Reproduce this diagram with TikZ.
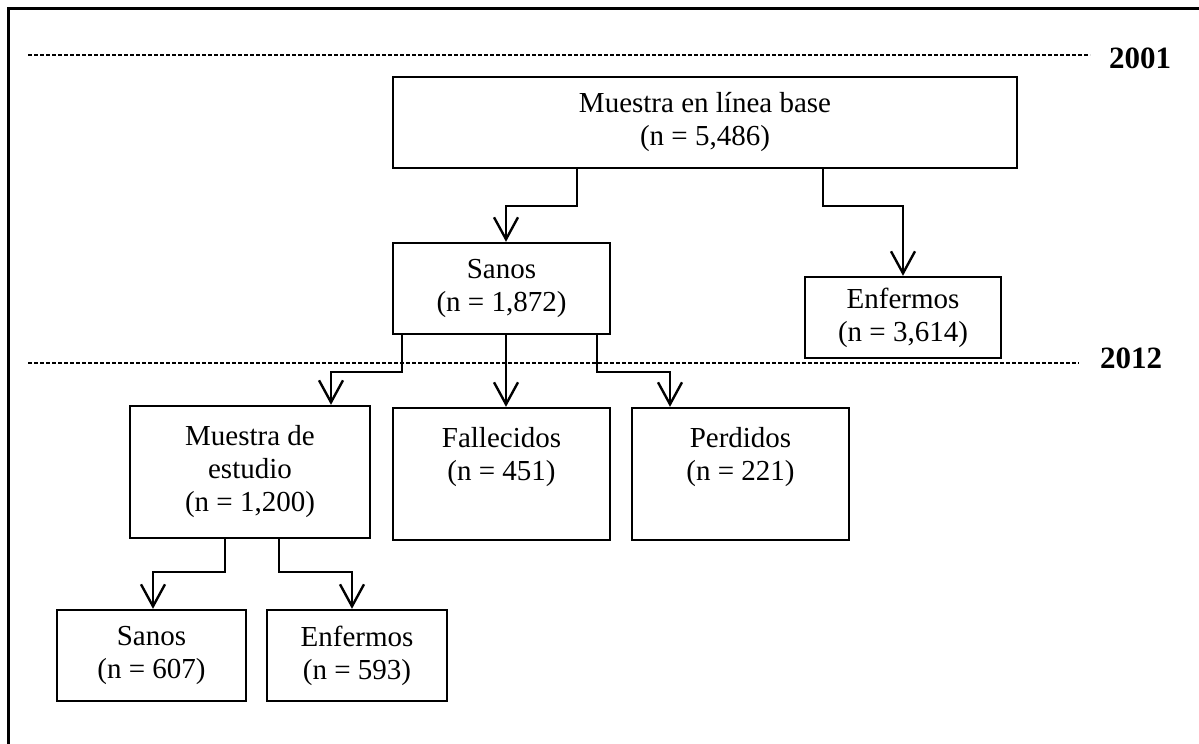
\documentclass[tikz,border=0pt]{standalone}
\usepackage{fontspec}
\setmainfont{Liberation Serif}
\usetikzlibrary{arrows.meta}
\begin{document}
\begin{tikzpicture}[x=0.5pt,y=-0.5pt,
  box/.style={draw,line width=1.2pt,align=center,inner sep=0pt,
    font=\fontsize{14.5}{16.5}\selectfont},
  arr/.style={line width=1.2pt,-{Straight Barb[length=11pt,width=12pt,line width=1.2pt]}},
  dline/.style={line width=0.7pt,dash pattern=on 2pt off 1pt},
  year/.style={font=\fontsize{15.5}{17}\selectfont\bfseries,inner sep=0pt}]
\useasboundingbox (0,0) rectangle (1199,744);
\begin{scope}
\clip (0,0) rectangle (1199,744);
\draw[line width=1.5pt] (8,800) -- (8,8) -- (1250,8);
\end{scope}
% time lines
\coordinate (d1a) at (28,55);
\coordinate (d1b) at (1090,55);
\coordinate (d2a) at (28,363);
\coordinate (d2b) at (1079,363);
\draw[dline] (d1a) -- (d1b);
\draw[dline] (d2a) -- (d2b);
\node[year] (y2001) at (1140,58) {2001};
\node[year] (y2012) at (1131,358) {2012};
% boxes
\node[box,minimum width=312pt,minimum height=45.5pt] (top) at (705,122.5) {Muestra en línea base\\(n = 5,486)};
\node[box,minimum width=108.5pt,minimum height=45.5pt] (sanos) at (501.5,288.5) {Sanos\\(n = 1,872)};
\node[box,minimum width=98pt,minimum height=40.5pt] (enf) at (903,317.5) {Enfermos\\(n = 3,614)};
\node[box,minimum width=120pt,minimum height=66pt] (mde) at (250,472) {Muestra de\\estudio\\(n = 1,200)};
\node[box,minimum width=108.5pt,minimum height=66pt] (fall) at (501.5,474) {Fallecidos\\(n = 451)\\\phantom{(n)}};
\node[box,minimum width=108.5pt,minimum height=66pt] (perd) at (740.5,474) {Perdidos\\(n = 221)\\\phantom{(n)}};
\node[box,minimum width=94.5pt,minimum height=45.5pt] (sanos2) at (151.5,655.5) {Sanos\\(n = 607)};
\node[box,minimum width=90pt,minimum height=45.5pt] (enf2) at (357,655.5) {Enfermos\\(n = 593)};
% column coordinates
\coordinate (c577) at (577,206);
\coordinate (c823) at (823,206);
\coordinate (c506) at (506,206);
\coordinate (c903) at (903,206);
\coordinate (c402) at (402,372);
\coordinate (c331) at (331,372);
\coordinate (c597) at (597,372);
\coordinate (c670) at (670,372);
\coordinate (c225) at (225,572);
\coordinate (c153) at (153,572);
\coordinate (c279) at (279,572);
\coordinate (c352) at (352,572);
% connectors
\draw[arr] (top.south -| c577) -- (c577) -- (c506) -- (sanos.north -| c506);
\draw[arr] (top.south -| c823) -- (c823) -- (c903) -- (enf.north -| c903);
\draw[arr] (sanos.south -| c402) -- (c402) -- (c331) -- (mde.north -| c331);
\draw[arr] (sanos.south -| c506) -- (fall.north -| c506);
\draw[arr] (sanos.south -| c597) -- (c597) -- (c670) -- (perd.north -| c670);
\draw[arr] (mde.south -| c225) -- (c225) -- (c153) -- (sanos2.north -| c153);
\draw[arr] (mde.south -| c279) -- (c279) -- (c352) -- (enf2.north -| c352);
\end{tikzpicture}
\end{document}
